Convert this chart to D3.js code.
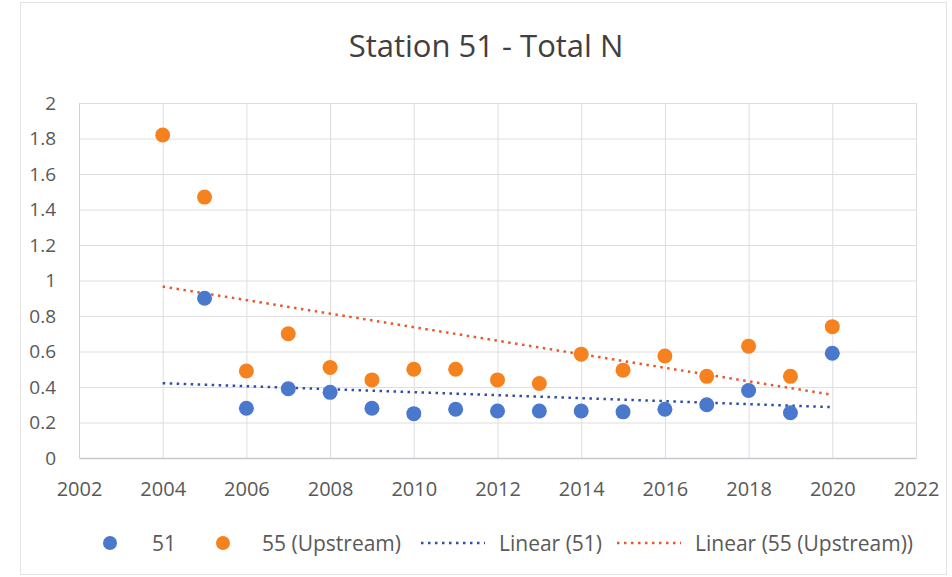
<!DOCTYPE html>
<html>
<head>
<meta charset="utf-8">
<script src="https://cdn.jsdelivr.net/npm/d3@7"></script>
<style>
  body { margin: 0; background: #fff; }
  text { font-family: "Open Sans", "Noto Sans", sans-serif; }
</style>
</head>
<body>
<div id="chart"></div>
<script>
// values
const years51 = [2005, 2006, 2007, 2008, 2009, 2010, 2011, 2012, 2013, 2014, 2015, 2016, 2017, 2018, 2019, 2020];
const values51 = [0.90, 0.28, 0.39, 0.37, 0.28, 0.25, 0.275, 0.265, 0.265, 0.265, 0.26, 0.275, 0.30, 0.38, 0.255, 0.59];
const years55 = [2004, 2005, 2006, 2007, 2008, 2009, 2010, 2011, 2012, 2013, 2014, 2015, 2016, 2017, 2018, 2019, 2020];
const values55 = [1.82, 1.47, 0.49, 0.70, 0.51, 0.44, 0.50, 0.50, 0.44, 0.42, 0.585, 0.495, 0.575, 0.46, 0.63, 0.46, 0.74];
const xTicks = [2002, 2004, 2006, 2008, 2010, 2012, 2014, 2016, 2018, 2020, 2022];
const yTicks = [0, 0.2, 0.4, 0.6, 0.8, 1, 1.2, 1.4, 1.6, 1.8, 2];
const trendRange = [2004, 2020];
const legendItems = [
  { label: "51", type: "dot", color: "#4a78cc" },
  { label: "55 (Upstream)", type: "dot", color: "#f5821f" },
  { label: "Linear (51)", type: "line", color: "#2e4fa8" },
  { label: "Linear (55 (Upstream))", type: "line", color: "#e8582a" }
];

const width = 952, height = 577;
const margin = { left: 79, right: 36, top: 103, bottom: 119 };

const svg = d3.select("#chart").append("svg")
  .attr("width", width)
  .attr("height", height);

svg.append("rect")
  .attr("x", 20.5).attr("y", 2.5)
  .attr("width", 926).attr("height", 572)
  .attr("fill", "#fff")
  .attr("stroke", "#e3e3e3");

const x = d3.scaleLinear().domain([2002, 2022]).range([margin.left, width - margin.right]);
const y = d3.scaleLinear().domain([0, 2]).range([height - margin.bottom, margin.top]);

// title
svg.append("text")
  .attr("x", 486).attr("y", 57)
  .attr("text-anchor", "middle")
  .attr("font-size", "31px")
  .attr("fill", "#404040")
  .text("Station 51 - Total N");

// gridlines
svg.append("g").selectAll("line").data(yTicks.slice(1)).enter().append("line")
  .attr("x1", x(2002)).attr("x2", x(2022))
  .attr("y1", d => y(d) + 0.5).attr("y2", d => y(d) + 0.5)
  .attr("stroke", "#dedede");
svg.append("g").selectAll("line").data(xTicks).enter().append("line")
  .attr("x1", d => x(d) + 0.5).attr("x2", d => x(d) + 0.5)
  .attr("y1", y(0)).attr("y2", y(2))
  .attr("stroke", "#dedede");

// axes
const xAxis = svg.append("g")
  .attr("transform", `translate(0,${y(0)})`)
  .call(d3.axisBottom(x).tickValues(xTicks).tickFormat(d3.format("d")).tickSize(0).tickPadding(24));
const yAxis = svg.append("g")
  .attr("transform", `translate(${x(2002)},0)`)
  .call(d3.axisLeft(y).tickValues(yTicks).tickFormat(d => String(d)).tickSize(0).tickPadding(23));
xAxis.selectAll("text").attr("font-size", "20px");
yAxis.selectAll("text").attr("font-size", "19px");
[xAxis, yAxis].forEach(a => {
  a.selectAll("text").attr("fill", "#595959")
    .attr("font-family", "'Open Sans', sans-serif");
});
xAxis.select(".domain").attr("stroke", "#c4c8d0").attr("stroke-width", 1.5);
yAxis.select(".domain").attr("stroke", "#d0d0d0");

// linear trend lines (least squares)
function fit(xs, ys) {
  const mx = d3.mean(xs), my = d3.mean(ys);
  const sxy = d3.sum(xs, (v, i) => (v - mx) * (ys[i] - my));
  const sxx = d3.sum(xs, v => (v - mx) * (v - mx));
  const b = sxy / sxx;
  return t => my + b * (t - mx);
}
const f51 = fit(years51, values51);
const f55 = fit(years55, values55);
const line = d3.line().x(d => x(d[0])).y(d => y(d[1]));

[[f51, legendItems[2].color], [f55, legendItems[3].color]].forEach(([f, c]) => {
  svg.append("path")
    .datum(trendRange.map(t => [t, f(t)]))
    .attr("d", line)
    .attr("fill", "none")
    .attr("stroke", c)
    .attr("stroke-width", 2.5)
    .attr("stroke-dasharray", "2.5,4.5");
});

// points
svg.append("g").selectAll("circle").data(years51.map((t, i) => [t, values51[i]])).enter().append("circle")
  .attr("cx", d => x(d[0])).attr("cy", d => y(d[1]))
  .attr("r", 7.5)
  .attr("fill", legendItems[0].color);
svg.append("g").selectAll("circle").data(years55.map((t, i) => [t, values55[i]])).enter().append("circle")
  .attr("cx", d => x(d[0])).attr("cy", d => y(d[1]))
  .attr("r", 7.5)
  .attr("fill", legendItems[1].color);

// legend
const legendX = [110, 223, 421, 617];
const legendTextX = [152, 262, 499, 695];
const legendY = 543;
const leg = svg.append("g").selectAll("g").data(legendItems).enter().append("g")
  .attr("transform", (d, i) => `translate(${legendX[i]},${legendY})`);
leg.filter(d => d.type === "dot").append("circle")
  .attr("r", 7).attr("fill", d => d.color);
leg.filter(d => d.type === "line").append("line")
  .attr("x1", 0).attr("x2", 64)
  .attr("stroke", d => d.color)
  .attr("stroke-width", 2.5)
  .attr("stroke-dasharray", "2.5,4.5");
leg.append("text")
  .attr("x", (d, i) => legendTextX[i] - legendX[i])
  .attr("y", 8)
  .attr("font-size", "21px")
  .attr("fill", "#595959")
  .text(d => d.label);
</script>
</body>
</html>
